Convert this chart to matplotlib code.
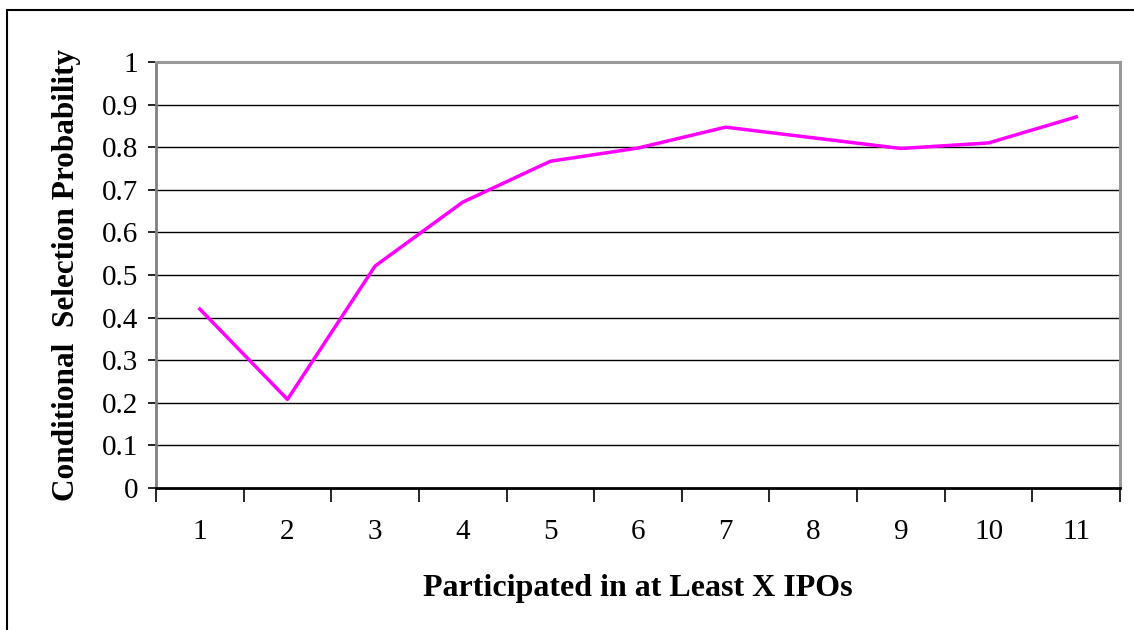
import matplotlib.pyplot as plt
from matplotlib.patches import Rectangle

# data
categories = [1, 2, 3, 4, 5, 6, 7, 8, 9, 10, 11]
probability = [0.420, 0.208, 0.521, 0.671, 0.767, 0.798, 0.847, 0.822, 0.797, 0.810, 0.871]
yticks = [0, 0.1, 0.2, 0.3, 0.4, 0.5, 0.6, 0.7, 0.8, 0.9, 1]
ytick_labels = ["0", "0.1", "0.2", "0.3", "0.4", "0.5", "0.6", "0.7", "0.8", "0.9", "1"]

plt.rcParams['font.family'] = ['Liberation Serif', 'DejaVu Serif']

fig = plt.figure(figsize=(11.34, 6.3), dpi=100)
ax = fig.add_axes([156/1134, 1 - 488/630, (1120-156)/1134, (488-62)/630])

# outer chart frame (clipped at right and bottom like the original)
fig.patches.append(Rectangle((7/1134, -0.05), 1.2, 1 - 10/630 + 0.05, transform=fig.transFigure,
                             fill=False, edgecolor="black", linewidth=1.5, zorder=0))

ax.plot(categories, probability, color="#FF00FF", linewidth=2.5, zorder=3)

ax.set_xlim(0.5, 11.5)
ax.set_ylim(0, 1)

for y in yticks[1:-1]:
    ax.axhline(y, color="black", linewidth=1.0, zorder=1)

ax.set_yticks(yticks)
ax.set_yticklabels(ytick_labels, fontsize=21)
ax.set_xticks(categories)
ax.set_xticklabels([str(c) for c in categories], fontsize=21)
ax.tick_params(axis="x", length=0, pad=22)
ax.set_xticks([c + 0.5 for c in [0] + categories], minor=True)
ax.tick_params(axis="x", which="minor", length=10, width=1.2, direction="out", color="black")
ax.tick_params(axis="y", length=6, width=1.2, direction="out", pad=7, color="black")

ax.spines["left"].set_color("#808080")
ax.spines["left"].set_linewidth(2)
ax.spines["bottom"].set_color("black")
ax.spines["bottom"].set_linewidth(2)
ax.spines["top"].set_color("#999999")
ax.spines["top"].set_linewidth(2.2)
ax.spines["right"].set_color("#999999")
ax.spines["right"].set_linewidth(2.2)

ax.set_xlabel("Participated in at Least X IPOs", fontsize=23, fontweight="bold", labelpad=21)
ax.set_ylabel("Conditional  Selection Probability", fontsize=22.5, fontweight="bold", labelpad=15)

fig.savefig("out.png", dpi=100)
